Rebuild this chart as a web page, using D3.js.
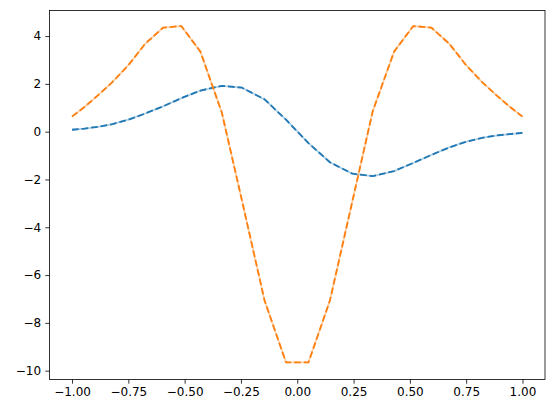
<!DOCTYPE html>
<html>
<head>
<meta charset="utf-8">
<script src="https://cdn.jsdelivr.net/npm/d3@7"></script>
<style>
  html, body { margin: 0; padding: 0; background: #fff; }
  text { font-family: "DejaVu Sans", sans-serif; }
</style>
</head>
<body>
<svg id="chart" width="554" height="413"></svg>
<script>
// Data
const xValues = [-1.0, -0.945, -0.885, -0.82, -0.75, -0.675, -0.596, -0.515, -0.43, -0.335, -0.245, -0.145, -0.05,
                 0.05, 0.145, 0.245, 0.335, 0.43, 0.515, 0.596, 0.675, 0.75, 0.82, 0.885, 0.945, 1.0];
const blueValues = [0.08, 0.13, 0.20, 0.32, 0.50, 0.76, 1.06, 1.40, 1.72, 1.92, 1.84, 1.35, 0.50,
                    -0.48, -1.28, -1.76, -1.86, -1.65, -1.31, -0.97, -0.66, -0.42, -0.26, -0.16, -0.10, -0.05];
const orangeValues = [0.63, 1.03, 1.52, 2.08, 2.78, 3.68, 4.35, 4.42, 3.35, 0.80, -2.90, -7.07, -9.65,
                      -9.65, -7.07, -2.90, 0.85, 3.35, 4.42, 4.35, 3.68, 2.78, 2.08, 1.52, 1.03, 0.63];
const xTicks = [-1.0, -0.75, -0.5, -0.25, 0.0, 0.25, 0.5, 0.75, 1.0];
const yTicks = [-10, -8, -6, -4, -2, 0, 2, 4];
const seriesColors = ["#1f77b4", "#ff7f0e"];

const svg = d3.select("#chart");
const frame = { left: 49.5, top: 10.5, right: 545, bottom: 379.5 };

const x = d3.scaleLinear().domain([-1.1, 1.1]).range([frame.left, frame.right]);
const y = d3.scaleLinear().domain([-10.37, 5.07]).range([frame.bottom, frame.top]);

const fmtMinus = s => s.replace("-", "\u2212");

// Axes
const xAxis = d3.axisBottom(x).tickValues(xTicks).tickSize(4.2).tickPadding(4.2)
  .tickFormat(d => fmtMinus(d3.format(".2f")(d)));
const yAxis = d3.axisLeft(y).tickValues(yTicks).tickSize(4.2).tickPadding(4.2)
  .tickFormat(d => fmtMinus(d3.format("d")(d)));

const gx = svg.append("g").attr("transform", `translate(0,${frame.bottom})`).call(xAxis);
const gy = svg.append("g").attr("transform", `translate(${frame.left},0)`).call(yAxis);
[gx, gy].forEach(g => {
  g.select(".domain").remove();
  g.selectAll(".tick line").attr("stroke", "#000").attr("stroke-width", 0.8);
  g.selectAll(".tick text").attr("fill", "#000").attr("font-size", "12px")
    .attr("font-family", "DejaVu Sans, sans-serif");
});

// Lines
const data = xValues.map((xv, i) => ({ x: xv, b: blueValues[i], o: orangeValues[i] }));
const lineB = d3.line().x(d => x(d.x)).y(d => y(d.b));
const lineO = d3.line().x(d => x(d.x)).y(d => y(d.o));

const plot = svg.append("g");
[[lineB, seriesColors[0]], [lineO, seriesColors[1]]].forEach(([ln, col]) => {
  plot.append("path").datum(data).attr("d", ln).attr("fill", "none")
    .attr("stroke", col).attr("stroke-width", 1.8).attr("stroke-opacity", 0.35)
    .attr("stroke-linejoin", "round");
  plot.append("path").datum(data).attr("d", ln).attr("fill", "none")
    .attr("stroke", col).attr("stroke-width", 1.8)
    .attr("stroke-dasharray", "6.7,2.9").attr("stroke-linejoin", "round");
});

// Frame
svg.append("rect")
  .attr("x", frame.left).attr("y", frame.top)
  .attr("width", frame.right - frame.left).attr("height", frame.bottom - frame.top)
  .attr("fill", "none").attr("stroke", "#000").attr("stroke-width", 0.8);
</script>
</body>
</html>
